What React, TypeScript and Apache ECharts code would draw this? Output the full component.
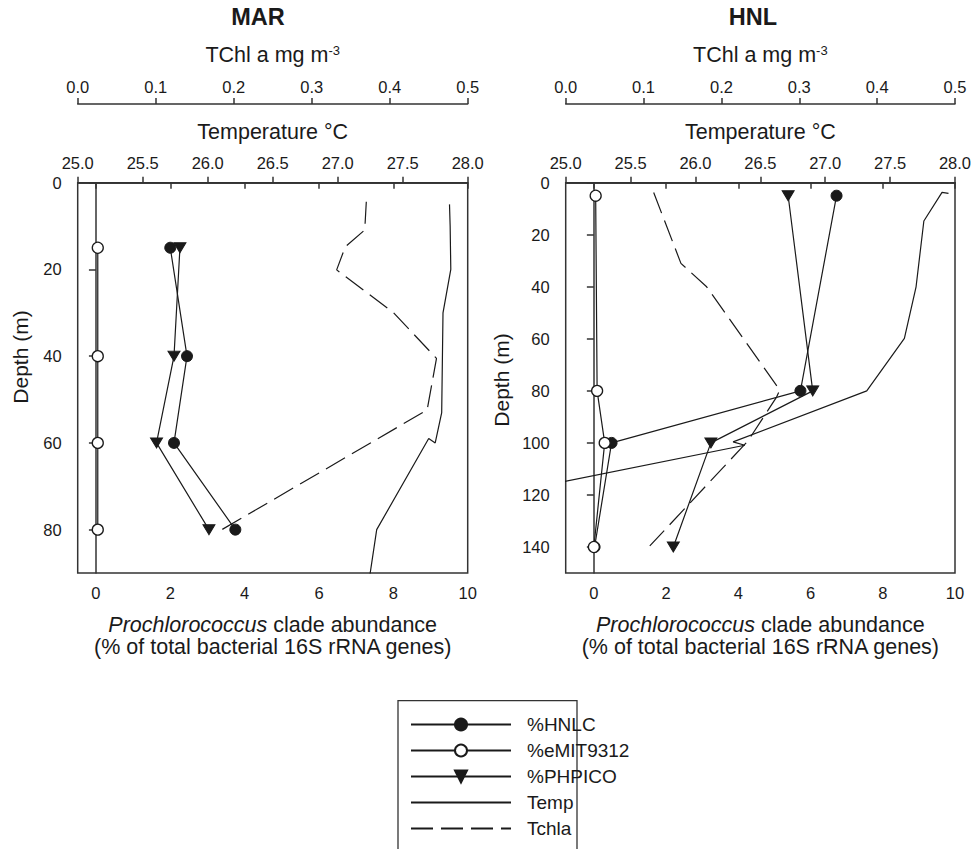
import React, { useEffect, useRef } from 'react';
import * as echarts from 'echarts';

const FONT = '"Liberation Sans", Arial, Helvetica, sans-serif';
const INK = '#1a1a1a';
const AXIS = '#333333';

// ---------- MAR panel ----------
const marSampleDepth = [15, 40, 60, 80];
const marHNLC = [2.0, 2.45, 2.1, 3.75];
const marEMIT9312 = [0.05, 0.05, 0.05, 0.05];
const marPHPICO = [2.26, 2.1, 1.63, 3.04];
const marTempDepth = [5, 10, 20, 30, 53, 60, 59, 80, 100];
const marTemp = [27.86, 27.865, 27.87, 27.81, 27.8, 27.75, 27.7, 27.3, 27.2];
const marTchlDepth = [4.4, 10.9, 14.8, 20.1, 30, 40.5, 52.4, 80.3];
const marTchl = [0.37, 0.368, 0.343, 0.332, 0.405, 0.46, 0.448, 0.182];

// ---------- HNL panel ----------
const hnlSampleDepth = [5, 80, 100, 140];
const hnlHNLC = [6.72, 5.72, 0.49, 0.02];
const hnlEMIT9312 = [0.05, 0.09, 0.3, 0.0];
const hnlPHPICO = [5.38, 6.06, 3.24, 2.2];
const hnlTempDepth = [4.1, 3.7, 14.7, 40, 59.8, 80, 99.6, 100.9, 120];
const hnlTemp = [27.95, 27.9, 27.76, 27.7, 27.61, 27.32, 26.29, 26.38, 24.47];
const hnlTchlDepth = [3.8, 31, 40, 79.7, 82.3, 99.3, 139.6];
const hnlTchl = [0.113, 0.148, 0.181, 0.275, 0.271, 0.234, 0.108];

// ---------- tick labels ----------
const abundanceTicks = [0, 2, 4, 6, 8, 10];
const marDepthTicks = [0, 20, 40, 60, 80];
const hnlDepthTicks = [0, 20, 40, 60, 80, 100, 120, 140];
const panelTitles = ['MAR', 'HNL'];
const seriesNames = ['%HNLC', '%eMIT9312', '%PHPICO', 'Temp', 'Tchla'];

const zip = (xs: number[], ys: number[]) => xs.map((x, i) => [x, ys[i]]);

const tickLabel = { fontFamily: FONT, fontSize: 16.5, color: INK };
const axisLine = { show: true, lineStyle: { color: AXIS, width: 1.5 } };
const axisTick = { show: true, inside: false, length: 6, lineStyle: { color: AXIS, width: 1.5 } };

function panelAxes(gridIndex: number, abMin: number) {
  return [
    {
      type: 'value', gridIndex, position: 'bottom', min: abMin, max: 10,
      axisLine, axisTick: { ...axisTick, customValues: abundanceTicks },
      axisLabel: { ...tickLabel, margin: 11, customValues: abundanceTicks },
      splitLine: { show: false },
      name: '{i|Prochlorococcus} clade abundance\n(% of total bacterial 16S rRNA genes)',
      nameLocation: 'middle', nameGap: 40.5,
      nameTextStyle: {
        fontFamily: FONT, fontSize: 21.5, color: INK, lineHeight: 22,
        rich: { i: { fontFamily: FONT, fontSize: 21.5, fontStyle: 'italic', color: INK, lineHeight: 22 } },
      },
    },
    {
      type: 'value', gridIndex, position: 'top', min: 25, max: 28, interval: 0.5,
      axisLine, axisTick,
      axisLabel: { ...tickLabel, margin: 11, formatter: (v: number) => v.toFixed(1) },
      splitLine: { show: false },
      name: 'Temperature °C', nameLocation: 'middle', nameGap: 40,
      nameTextStyle: { fontFamily: FONT, fontSize: 21.5, color: INK },
    },
    {
      type: 'value', gridIndex, position: 'top', offset: 78.7, min: 0, max: 0.5, interval: 0.1,
      axisLine, axisTick,
      axisLabel: { ...tickLabel, margin: 9, formatter: (v: number) => v.toFixed(1) },
      splitLine: { show: false },
      name: 'TChl a mg m{sup|-3}', nameLocation: 'middle', nameGap: 38,
      nameTextStyle: {
        fontFamily: FONT, fontSize: 21.5, color: INK,
        rich: { sup: { fontFamily: FONT, fontSize: 13, color: INK, verticalAlign: 'top' } },
      },
    },
  ];
}

function panelY(gridIndex: number, max: number, ticks: number[]) {
  return {
    type: 'value', gridIndex, inverse: true, min: 0, max,
    axisLine, axisTick: { ...axisTick, length: 7, customValues: ticks },
    axisLabel: { ...tickLabel, margin: 16, customValues: ticks },
    splitLine: { show: false },
  };
}

function panelSeries(p: number, depth: number[], hnlc: number[], emit: number[], phpico: number[],
  tDepth: number[], temp: number[], cDepth: number[], tchl: number[]) {
  const base = p * 3;
  const common = { yAxisIndex: p, animation: false, emphasis: { disabled: true }, clip: true };
  return [
    {
      ...common, type: 'line', name: seriesNames[0], xAxisIndex: base, data: zip(hnlc, depth),
      symbol: 'circle', symbolSize: 11,
      lineStyle: { color: INK, width: 1.2 }, itemStyle: { color: INK, borderColor: INK, borderWidth: 1 },
    },
    {
      ...common, type: 'line', name: seriesNames[1], xAxisIndex: base, data: zip(emit, depth),
      symbol: 'circle', symbolSize: 11,
      lineStyle: { color: INK, width: 1.2 }, itemStyle: { color: '#ffffff', borderColor: INK, borderWidth: 1.3 },
    },
    {
      ...common, type: 'line', name: seriesNames[2], xAxisIndex: base, data: zip(phpico, depth),
      symbol: 'triangle', symbolRotate: 180, symbolSize: [12, 10],
      lineStyle: { color: INK, width: 1.2 }, itemStyle: { color: INK, borderColor: INK, borderWidth: 1 },
    },
    {
      ...common, type: 'line', name: seriesNames[3], xAxisIndex: base + 1, data: zip(temp, tDepth),
      symbol: 'none', lineStyle: { color: INK, width: 1.2 }, itemStyle: { color: INK, opacity: 0 },
    },
    {
      ...common, type: 'line', name: seriesNames[4], xAxisIndex: base + 2, data: zip(tchl, cDepth),
      symbol: 'none', lineStyle: { color: INK, width: 1.2, type: [22, 8] }, itemStyle: { color: INK, opacity: 0 },
    },
  ];
}

export default function App() {
  const ref = useRef<HTMLDivElement>(null);
  useEffect(() => {
    if (!ref.current) return;
    const chart = echarts.init(ref.current, null, { renderer: 'svg' });
    const option: any = {
      animation: false,
      backgroundColor: '#ffffff',
      textStyle: { fontFamily: FONT },
      grid: [
        { left: 77.7, top: 182.7, width: 390, height: 390.3, show: true, borderColor: AXIS, borderWidth: 1.5, backgroundColor: 'transparent' },
        { left: 565.7, top: 182.7, width: 389.3, height: 390.3, show: true, borderColor: AXIS, borderWidth: 1.5, backgroundColor: 'transparent' },
      ],
      xAxis: [...panelAxes(0, -0.49), ...panelAxes(1, -0.78)],
      yAxis: [panelY(0, 90, marDepthTicks), panelY(1, 150, hnlDepthTicks)],
      legend: {
        data: [
          { name: seriesNames[0] },
          { name: seriesNames[1] },
          { name: seriesNames[2] },
          { name: seriesNames[3], itemStyle: { opacity: 0 } },
          { name: seriesNames[4], itemStyle: { opacity: 0 } },
        ],
        orient: 'vertical', left: 410, top: 715, padding: 0,
        itemWidth: 100, itemHeight: 15, itemGap: 7,
        selectedMode: false,
        textStyle: { fontFamily: FONT, fontSize: 19, color: INK, padding: [0, 0, 0, 11] },
      },
      graphic: [
        {
          type: 'text', x: 258, y: 17,
          style: { text: panelTitles[0], font: `bold 23.5px ${FONT}`, fill: INK, align: 'center', verticalAlign: 'middle' },
        },
        {
          type: 'text', x: 753, y: 17,
          style: { text: panelTitles[1], font: `bold 23.5px ${FONT}`, fill: INK, align: 'center', verticalAlign: 'middle' },
        },
        {
          type: 'text', x: 20, y: 357, rotation: Math.PI / 2,
          style: { text: 'Depth (m)', font: `21px ${FONT}`, fill: INK, align: 'center', verticalAlign: 'middle' },
        },
        {
          type: 'text', x: 501, y: 380, rotation: Math.PI / 2,
          style: { text: 'Depth (m)', font: `21px ${FONT}`, fill: INK, align: 'center', verticalAlign: 'middle' },
        },
        {
          type: 'rect', shape: { x: 398, y: 700.7, width: 179, height: 200 },
          style: { fill: 'none', stroke: AXIS, lineWidth: 1.3 }, silent: true,
        },
      ],
      series: [
        ...panelSeries(0, marSampleDepth, marHNLC, marEMIT9312, marPHPICO, marTempDepth, marTemp, marTchlDepth, marTchl),
        ...panelSeries(1, hnlSampleDepth, hnlHNLC, hnlEMIT9312, hnlPHPICO, hnlTempDepth, hnlTemp, hnlTchlDepth, hnlTchl),
      ],
    };
    chart.setOption(option);
    return () => chart.dispose();
  }, []);
  return (
    <div
      ref={ref}
      style={{ position: 'absolute', left: 0, top: 0, width: 975, height: 849, background: '#fff' }}
    />
  );
}
